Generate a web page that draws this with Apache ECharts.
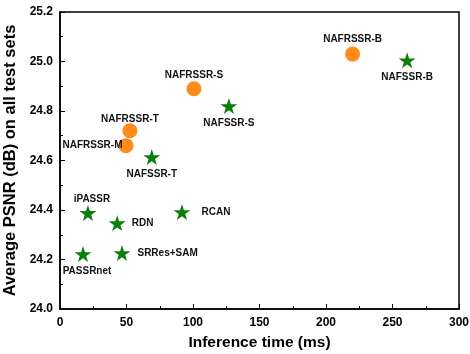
<!DOCTYPE html>
<html>
<head>
<meta charset="utf-8">
<script src="https://cdn.jsdelivr.net/npm/echarts@6/dist/echarts.min.js"></script>
<style>
    html, body { margin: 0; padding: 0; background: #fff; }
    #chart { width: 470px; height: 354px; }
</style>
</head>
<body>
<div id="chart"></div>
<script>
    // NAFRSSR (circles)
    const circleNames = ['NAFRSSR-M', 'NAFRSSR-T', 'NAFRSSR-S', 'NAFRSSR-B'];
    const circleTime = [49.6, 52.6, 100.7, 220];
    const circlePsnr = [24.66, 24.72, 24.89, 25.03];

    // other methods (stars)
    const starNames = ['PASSRnet', 'iPASSR', 'RDN', 'SRRes+SAM', 'RCAN', 'NAFSSR-T', 'NAFSSR-S', 'NAFSSR-B'];
    const starTime = [17.3, 21, 43, 46.6, 91.7, 69, 127, 261];
    const starPsnr = [24.222, 24.388, 24.347, 24.226, 24.392, 24.614, 24.82, 25.005];

    const xTicks = [0, 50, 100, 150, 200, 250, 300];
    const yTicks = [24.0, 24.2, 24.4, 24.6, 24.8, 25.0, 25.2];

    // label placement per point
    const labelPos = {
        'NAFRSSR-M': { position: 'left', distance: -4 },
        'NAFRSSR-T': { position: 'top', distance: -1 },
        'NAFRSSR-S': { position: 'top', distance: 1 },
        'NAFRSSR-B': { position: 'top', distance: 2 },
        'PASSRnet': { position: 'bottom', distance: 4, offset: [4, 0] },
        'iPASSR': { position: 'top', distance: 1, offset: [4, 0] },
        'RDN': { position: 'right', distance: 6 },
        'SRRes+SAM': { position: 'right', distance: 7 },
        'RCAN': { position: 'right', distance: 11 },
        'NAFSSR-T': { position: 'bottom', distance: 4 },
        'NAFSSR-S': { position: 'bottom', distance: 4 },
        'NAFSSR-B': { position: 'bottom', distance: 4 }
    };

    const starPath = 'path://M50,0 L61,35 L98,35 L68,57 L79,91 L50,70 L21,91 L32,57 L2,35 L39,35 Z';
    const font = 'Liberation Sans, Arial, sans-serif';

    function buildData(names, xs, ys) {
        return names.map((n, i) => ({
            name: n,
            value: [xs[i], ys[i]],
            label: Object.assign({ show: true }, labelPos[n])
        }));
    }

    const labelStyle = {
        formatter: '{b}',
        color: '#111',
        fontFamily: font,
        fontWeight: 'bold',
        fontSize: 10
    };

    const myChart = echarts.init(document.getElementById('chart'));
    const option = {
        animation: false,
        grid: {
            left: 60, right: 11, top: 12, bottom: 45,
            containLabel: false,
            outerBoundsMode: 'none',
            show: true,
            borderColor: '#000',
            borderWidth: 1.5
        },
        xAxis: {
            type: 'value',
            min: 0, max: 300, interval: 50,
            name: 'Inference time (ms)',
            nameLocation: 'middle',
            nameGap: 26,
            nameTextStyle: { fontFamily: font, fontWeight: 'bold', fontSize: 15.5, color: '#000' },
            axisLine: { show: true, onZero: false, lineStyle: { color: '#000', width: 1.5 } },
            axisTick: { show: true, inside: true, length: 5, lineStyle: { color: '#000' } },
            minorTick: { show: true, splitNumber: 2, length: 3, lineStyle: { color: '#000' } },
            splitLine: { show: false },
            axisLabel: {
                fontFamily: font, fontWeight: 'bold', fontSize: 12, color: '#000', margin: 8,
                formatter: v => xTicks.indexOf(v) >= 0 ? String(v) : ''
            }
        },
        yAxis: {
            type: 'value',
            min: 24.0, max: 25.2, interval: 0.2,
            name: 'Average PSNR (dB) on all test sets',
            nameLocation: 'middle',
            nameGap: 40,
            nameTextStyle: { fontFamily: font, fontWeight: 'bold', fontSize: 16.5, color: '#000' },
            axisLine: { show: true, onZero: false, lineStyle: { color: '#000', width: 1.5 } },
            axisTick: { show: true, inside: true, length: 5, lineStyle: { color: '#000' } },
            minorTick: { show: true, splitNumber: 2, length: 3, lineStyle: { color: '#000' } },
            splitLine: { show: false },
            axisLabel: {
                fontFamily: font, fontWeight: 'bold', fontSize: 12, color: '#000', margin: 7,
                formatter: v => {
                    const t = yTicks.find(k => Math.abs(k - v) < 1e-6);
                    return t === undefined ? '' : t.toFixed(1);
                }
            }
        },
        series: [{
            name: 'NAFRSSR',
            type: 'scatter',
            symbol: 'circle',
            symbolSize: 15,
            itemStyle: { color: '#ff8c1a', opacity: 1 },
            label: labelStyle,
            data: buildData(circleNames, circleTime, circlePsnr)
        }, {
            name: 'others',
            type: 'scatter',
            symbol: starPath,
            symbolSize: [17, 16],
            itemStyle: { color: '#0a7d0a', opacity: 1 },
            label: labelStyle,
            data: buildData(starNames, starTime, starPsnr)
        }]
    };
    myChart.setOption(option);
</script>
</body>
</html>
